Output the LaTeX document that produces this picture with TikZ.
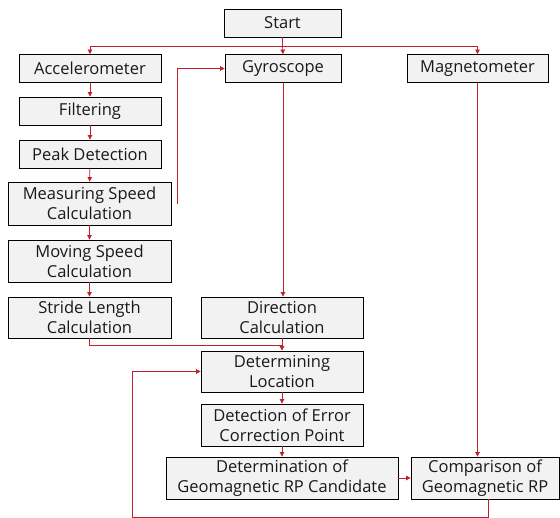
\documentclass[tikz,border=0pt]{standalone}
\usepackage{fontspec}
\setmainfont{Open Sans}
\usetikzlibrary{arrows.meta,calc}
\definecolor{boxfill}{HTML}{F2F2F2}
\definecolor{linkred}{HTML}{C0202A}
\tikzset{
  box/.style={draw=black, line width=0.8pt, fill=boxfill, inner sep=0pt, align=center,
    font=\fontsize{16.5}{20}\selectfont, text=black!90},
  conn/.style={draw=linkred, line width=0.7pt},
  arr/.style={conn, -{Triangle[length=4.5pt,width=4.5pt]}}
}
\begin{document}
\begin{tikzpicture}[x=1pt,y=-1pt]
\useasboundingbox (0,0) rectangle (560,518);
% nodes
\node[box, minimum width=117pt, minimum height=28pt] (start) at (282.5,23) {Start};
\node[box, minimum width=142pt, minimum height=28pt] (acc) at (90,68.5) {Accelerometer};
\node[box, minimum width=116pt, minimum height=28pt] (gyro) at (283,68.5) {Gyroscope};
\node[box, minimum width=141pt, minimum height=28pt] (mag) at (477.5,68.5) {Magnetometer};
\node[box, minimum width=142pt, minimum height=28pt] (filt) at (90,111) {Filtering};
\node[box, minimum width=142pt, minimum height=28pt] (peak) at (90,154) {Peak Detection};
\node[box, minimum width=163pt, minimum height=43pt] (meas) at (89.5,203.5) {Measuring Speed\\Calculation};
\node[box, minimum width=163pt, minimum height=42pt] (mov) at (89.5,261) {Moving Speed\\Calculation};
\node[box, minimum width=163pt, minimum height=41pt] (stride) at (89.5,317.5) {Stride Length\\Calculation};
\node[box, minimum width=162pt, minimum height=41pt] (dir) at (282,317.5) {Direction\\Calculation};
\node[box, minimum width=162pt, minimum height=41pt] (det) at (282,371.5) {Determining\\Location};
\node[box, minimum width=162pt, minimum height=42pt] (err) at (282,425) {Detection of Error\\Correction Point};
\node[box, minimum width=232pt, minimum height=42pt] (cand) at (282,478) {Determination of\\Geomagnetic RP Candidate};
\node[box, minimum width=148pt, minimum height=42pt] (comp) at (485,478) {Comparison of\\Geomagnetic RP};
% helper coordinates
\coordinate (bus) at (282.5,46);
\coordinate (loop) at (177,204);
\coordinate (join) at (282,345);
\coordinate (fbA) at (488,499);
\coordinate (fbB) at (488,517);
\coordinate (fbC) at (132,517);
% connectors
\draw[conn] (start.south) -- (bus);
\draw[arr] (bus) -| (acc.north);
\draw[arr] (bus) -| (mag.north);
\draw[arr] (bus) -- (gyro.north);
\draw[arr] (acc) -- (filt);
\draw[arr] (filt) -- (peak);
\draw[arr] (peak) -- (meas);
\draw[arr] (meas) -- (mov);
\draw[arr] (mov) -- (stride);
\draw[arr] (loop) |- (gyro.west);
\draw[arr] (gyro.south) -- (gyro.south |- dir.north);
\draw[conn] (stride.south) |- (join);
\draw[arr] (dir) -- (det);
\draw[arr] (det) -- (err);
\draw[arr] (err) -- (cand);
\draw[arr] (cand) -- (comp);
\draw[arr] (mag.south) -- (mag.south |- comp.north);
\draw[arr] (fbA) -- (fbB) -- (fbC) |- (det.west);
\end{tikzpicture}
\end{document}
